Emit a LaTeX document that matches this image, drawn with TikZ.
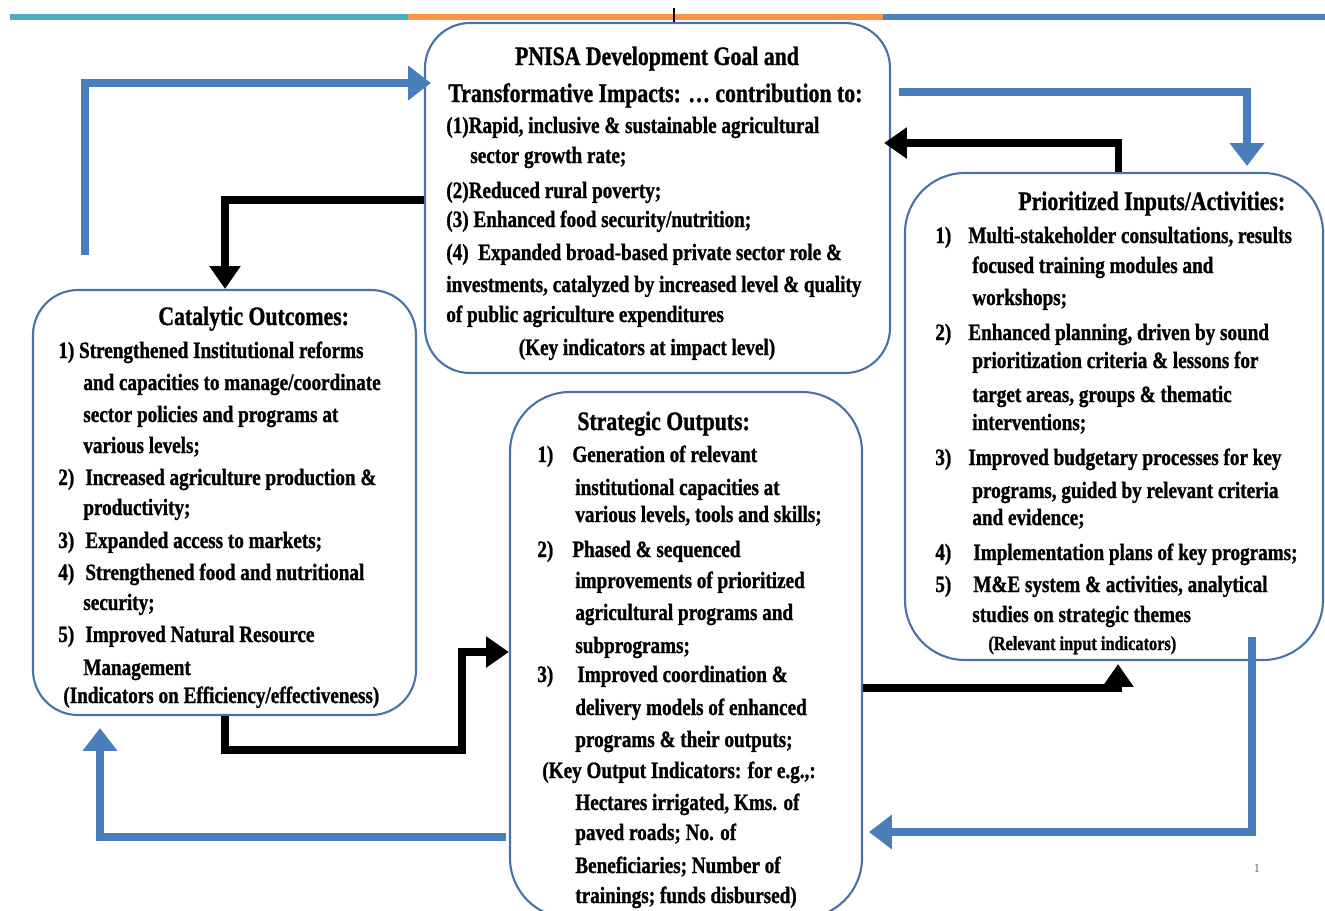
\documentclass[tikz,border=0pt]{standalone}
\usepackage{fontspec}
\setmainfont{Liberation Serif}[BoldFeatures={FakeBold=1.2}]
\usepackage{graphicx}
\usetikzlibrary{arrows.meta,fit}
\definecolor{boxblue}{RGB}{74,114,168}
\definecolor{arrblue}{RGB}{74,126,187}
\definecolor{topcyan}{RGB}{75,172,198}
\definecolor{toporange}{RGB}{247,150,70}
\definecolor{topblue}{RGB}{79,129,189}
\newcommand\titlefont{\fontsize{12.4}{14}\selectfont\bfseries}
\newcommand\bodyfont{\fontsize{10.9}{13}\selectfont\bfseries}
\newcommand\smallfont{\fontsize{9.3}{11}\selectfont\bfseries}
\newcommand\vstretch[1]{\scalebox{1}[1.22]{#1}}
\begin{document}
\begin{tikzpicture}[x=0.02cm,y=-0.02cm,
 box/.style={draw=boxblue,line width=1.2pt,inner sep=0pt},
 ln/.style={anchor=base west,inner sep=0pt,font=\bodyfont},
 ttl/.style={anchor=base west,inner sep=0pt,font=\titlefont},
 sml/.style={anchor=base west,inner sep=0pt,font=\smallfont},
 bluearr/.style={draw=arrblue,line width=4.5pt,-{Triangle[length=13pt,width=19pt]}},
 blackarr/.style={draw=black,line width=4pt,-{Triangle[length=13pt,width=17pt]}}]
\useasboundingbox (0,0) rectangle (1325,910);
\clip (0,0) rectangle (1325,910);
% top rule
\draw[line width=3.4pt,topcyan] (10,17) -- (408,17);
\draw[line width=3.4pt,toporange] (408,17) -- (883,17);
\draw[line width=3.4pt,topblue] (883,17) -- (1325,17);
\draw[line width=0.6pt] (674,8) -- (674,24);
% boxes
\node[box,rounded corners=0.9cm,fit={(425,23) (890,373)}] (goal) {};
\node[box,rounded corners=1.2cm,fit={(905,173) (1323,660)}] (pri) {};
\node[box,rounded corners=0.9cm,fit={(33,290) (416,715)}] (cat) {};
\node[box,rounded corners=1.2cm,fit={(510,392) (862,918)}] (strat) {};
% goal text
\node[ttl,anchor=base] (g1) at (657,65) {\vstretch{PNISA Development Goal and}};
\node[ttl] (g2) at (448,102) {\vstretch{Transformative Impacts: … contribution to:}};
\node[ln] (g3) at (446,133) {\vstretch{(1)Rapid, inclusive \& sustainable agricultural}};
\node[ln] (g4) at (470,163) {\vstretch{sector growth rate;}};
\node[ln] (g5) at (446,198) {\vstretch{(2)Reduced rural poverty;}};
\node[ln] (g6) at (446,227) {\vstretch{(3) Enhanced food security/nutrition;}};
\node[ln] (g7) at (446,260) {\vstretch{(4)\enspace Expanded broad-based private sector role \&}};
\node[ln] (g8) at (446,292) {\vstretch{investments, catalyzed by increased level \& quality}};
\node[ln] (g9) at (446,322) {\vstretch{of public agriculture expenditures}};
\node[ln,anchor=base] (g10) at (647,355) {\vstretch{(Key indicators at impact level)}};
% prioritized text
\node[ttl] (p0) at (1018,210) {\vstretch{Prioritized Inputs/Activities:}};
\node[ln] (p1n) at (935,243) {\vstretch{1)}};
\node[ln] (p1) at (968,243) {\vstretch{Multi-stakeholder consultations, results}};
\node[ln] (p2) at (972,273) {\vstretch{focused training modules and}};
\node[ln] (p3) at (972,305) {\vstretch{workshops;}};
\node[ln] (p4n) at (935,340) {\vstretch{2)}};
\node[ln] (p4) at (968,340) {\vstretch{Enhanced planning, driven by sound}};
\node[ln] (p5) at (972,368) {\vstretch{prioritization criteria \& lessons for}};
\node[ln] (p6) at (972,402) {\vstretch{target areas, groups \& thematic}};
\node[ln] (p7) at (972,430) {\vstretch{interventions;}};
\node[ln] (p8n) at (935,465) {\vstretch{3)}};
\node[ln] (p8) at (968,465) {\vstretch{Improved budgetary processes for key}};
\node[ln] (p9) at (972,498) {\vstretch{programs, guided by relevant criteria}};
\node[ln] (p10) at (972,525) {\vstretch{and evidence;}};
\node[ln] (p11n) at (935,560) {\vstretch{4)}};
\node[ln] (p11) at (973,560) {\vstretch{Implementation plans of key programs;}};
\node[ln] (p12n) at (935,592) {\vstretch{5)}};
\node[ln] (p12) at (973,592) {\vstretch{M\&E system \& activities, analytical}};
\node[ln] (p13) at (972,622) {\vstretch{studies on strategic themes}};
\node[sml] (p14) at (988,650) {\vstretch{(Relevant input indicators)}};
% catalytic text
\node[ttl] (c0) at (158,325) {\vstretch{Catalytic Outcomes:}};
\node[ln] (c1) at (58,358) {\vstretch{1) Strengthened Institutional reforms}};
\node[ln] (c2) at (83,390) {\vstretch{and capacities to manage/coordinate}};
\node[ln] (c3) at (83,422) {\vstretch{sector policies and programs at}};
\node[ln] (c4) at (83,453) {\vstretch{various levels;}};
\node[ln] (c5n) at (58,485) {\vstretch{2)}};
\node[ln] (c5) at (85,485) {\vstretch{Increased agriculture production \&}};
\node[ln] (c6) at (83,515) {\vstretch{productivity;}};
\node[ln] (c7n) at (58,548) {\vstretch{3)}};
\node[ln] (c7) at (85,548) {\vstretch{Expanded access to markets;}};
\node[ln] (c8n) at (58,580) {\vstretch{4)}};
\node[ln] (c8) at (85,580) {\vstretch{Strengthened food and nutritional}};
\node[ln] (c9) at (83,610) {\vstretch{security;}};
\node[ln] (c10n) at (58,642) {\vstretch{5)}};
\node[ln] (c10) at (85,642) {\vstretch{Improved Natural Resource}};
\node[ln] (c11) at (83,675) {\vstretch{Management}};
\node[ln] (c12) at (63,703) {\vstretch{(Indicators on Efficiency/effectiveness)}};
% strategic text
\node[ttl] (s0) at (577,430) {\vstretch{Strategic Outputs:}};
\node[ln] (s1n) at (537,462) {\vstretch{1)}};
\node[ln] (s1) at (572,462) {\vstretch{Generation of relevant}};
\node[ln] (s2) at (575,495) {\vstretch{institutional capacities at}};
\node[ln] (s3) at (575,522) {\vstretch{various levels, tools and skills;}};
\node[ln] (s4n) at (537,557) {\vstretch{2)}};
\node[ln] (s4) at (572,557) {\vstretch{Phased \& sequenced}};
\node[ln] (s5) at (575,588) {\vstretch{improvements of prioritized}};
\node[ln] (s6) at (575,620) {\vstretch{agricultural programs and}};
\node[ln] (s7) at (575,653) {\vstretch{subprograms;}};
\node[ln] (s8n) at (537,682) {\vstretch{3)}};
\node[ln] (s8) at (577,682) {\vstretch{Improved coordination \&}};
\node[ln] (s9) at (575,715) {\vstretch{delivery models of enhanced}};
\node[ln] (s10) at (575,747) {\vstretch{programs \& their outputs;}};
\node[ln] (s11) at (542,778) {\vstretch{(Key Output Indicators: for e.g.,:}};
\node[ln] (s12) at (575,810) {\vstretch{Hectares irrigated, Kms. of}};
\node[ln] (s13) at (575,840) {\vstretch{paved roads; No. of}};
\node[ln] (s14) at (575,873) {\vstretch{Beneficiaries; Number of}};
\node[ln] (s15) at (575,903) {\vstretch{trainings; funds disbursed)}};
% page number
\node[font=\fontsize{7}{8}\selectfont,text=gray!80!black,inner sep=0pt] (pg) at (1257,868) {1};
% helper coordinates
\coordinate (y83) at (0,83);
\coordinate (y92) at (0,92);
\coordinate (y143) at (0,143);
\coordinate (y200) at (0,200);
\coordinate (y652) at (0,652);
\coordinate (y688) at (0,688);
\coordinate (y832) at (0,832);
\coordinate (y837) at (0,837);
\coordinate (x100) at (100,0);
\coordinate (x225) at (225,0);
\coordinate (x1118) at (1118,0);
\coordinate (x1247) at (1247,0);
\coordinate (b1s) at (85,255);
\coordinate (b3s) at (1252,637);
\coordinate (k7) at (462,750);
% blue arrows
\draw[bluearr] (b1s) |- ([xshift=0.14cm]goal.west |- y83);
\draw[bluearr] ([xshift=0.16cm]goal.east |- y92) -| ([yshift=0.12cm]pri.north -| x1247);
\draw[bluearr] (b3s) |- ([xshift=0.12cm]strat.east |- y832);
\draw[bluearr] ([xshift=-0.06cm]strat.west |- y837) -| ([yshift=-0.24cm]cat.south -| x100);
% black arrows
\draw[blackarr] (goal.west |- y200) -| (cat.north -| x225);
\draw[blackarr] (pri.north -| x1118) |- ([xshift=-0.14cm]goal.east |- y143);
\draw[blackarr] (cat.south -| x225) |- (k7) |- (strat.west |- y652);
\draw[blackarr] (strat.east |- y688) -| ([yshift=-0.06cm]pri.south -| x1118);
\end{tikzpicture}
\end{document}
